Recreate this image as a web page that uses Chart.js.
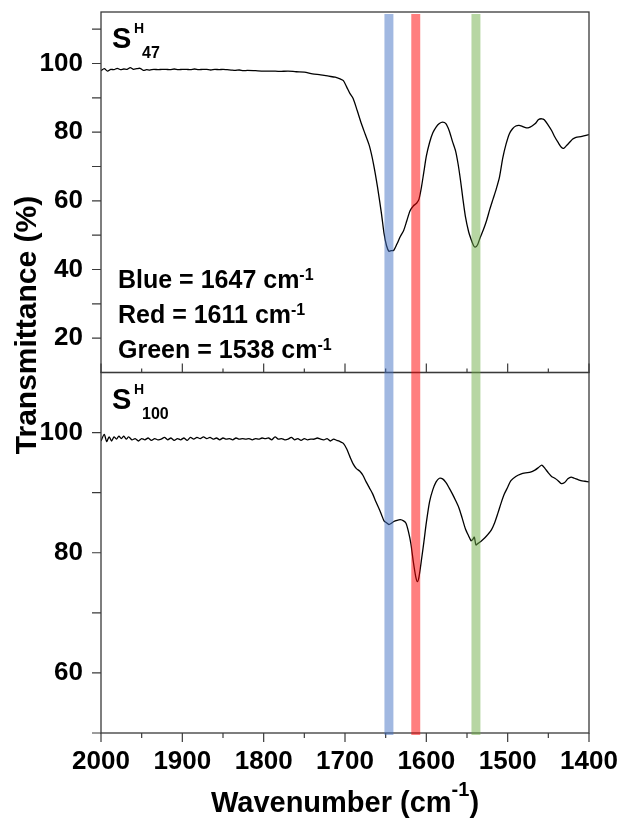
<!DOCTYPE html>
<html>
<head>
<meta charset="utf-8">
<script src="https://cdn.jsdelivr.net/npm/chart.js@4.4.1/dist/chart.umd.min.js"></script>
<style>
  html, body { margin: 0; padding: 0; background: #ffffff; }
  #wrap { position: relative; width: 623px; height: 822px; }
  canvas { display: block; }
</style>
</head>
<body>
<div id="wrap"><canvas id="c" width="623" height="822"></canvas></div>
<script>
// ---------------- DATA ----------------
const xTickValues = [2000, 1900, 1800, 1700, 1600, 1500, 1400];
const xMinorTickValues = [1950, 1850, 1750, 1650, 1550, 1450];
const yTopTickValues = [20, 40, 60, 80, 100];
const yTopMinorTickValues = [30, 50, 70, 90, 110];
const yBottomTickValues = [60, 80, 100];
const yBottomMinorTickValues = [50, 70, 90];

const bandCenters = [1646, 1613, 1539];
const bandNames = ['Blue', 'Red', 'Green'];
const bandLabelValues = [1647, 1611, 1538];

// S^H_47 spectrum
const wnTop = [2000,1996,1992,1988,1984,1980,1976,1972,1968,1964,1960,1956,1952,1948,1944,1940,1935,1930,1925,1920,1915,1910,1905,1900,1895,1890,1885,1880,1875,1870,1865,1860,1855,1850,1845,1840,1835,1830,1825,1820,1810,1800,1790,1780,1770,1760,1750,1740,1730,1720,1712,1706,1702,1698,1694,1690,1685,1680,1675,1670,1665,1660,1655,1652,1649,1646,1643,1640,1636,1632,1628,1624,1620,1616,1612,1609,1606,1603,1600,1596,1592,1588,1584,1580,1576,1572,1568,1564,1561,1558,1555,1552,1548,1545,1542,1540,1537,1534,1530,1526,1522,1518,1514,1510,1506,1502,1498,1494,1490,1486,1482,1478,1474,1470,1466,1462,1458,1455,1450,1446,1442,1438,1434,1431,1428,1424,1420,1416,1410,1405,1400];
const tTop = [97.9,98.5,97.8,98.3,98.2,98.6,98.2,98.4,98.3,98.8,98.3,98.5,98.6,98.0,98.2,98.1,98.3,98.2,98.3,98.3,98.2,98.4,98.2,98.3,98.3,98.2,98.4,98.2,98.3,98.3,98.1,98.3,98.2,98.3,98.2,98.1,98.0,98.1,97.9,98.0,97.9,97.8,97.8,97.7,97.8,97.6,97.5,97.0,96.7,96.3,96.0,95.5,95.0,93.2,91.3,89.8,86.3,82.6,79.3,76.0,70.8,64.0,56.0,50.5,47.0,45.3,45.5,45.6,47.5,49.6,51.3,54.2,57.1,58.5,59.3,60.5,64.0,68.5,73.0,77.0,79.8,81.5,82.5,82.9,82.5,80.5,77.4,74.5,70.8,66.0,60.5,55.5,51.0,48.8,47.0,46.5,47.2,49.2,51.5,54.2,57.5,60.5,63.5,67.0,72.5,76.5,79.5,81.0,81.8,82.0,81.7,81.3,81.3,81.8,82.5,83.7,83.9,83.6,82.0,80.5,78.6,77.0,75.6,75.3,76.0,77.0,78.0,78.5,78.7,79.0,79.3];

// S^H_100 spectrum
const wnBottom = [2000,1996,1993,1990,1987,1984,1981,1978,1975,1972,1969,1966,1962,1958,1954,1950,1946,1942,1938,1934,1930,1926,1922,1918,1914,1910,1906,1902,1898,1894,1890,1886,1882,1878,1874,1870,1866,1862,1858,1854,1850,1846,1842,1838,1834,1830,1826,1822,1818,1814,1810,1806,1802,1798,1794,1790,1786,1782,1778,1774,1770,1766,1762,1758,1754,1750,1746,1742,1738,1734,1730,1726,1722,1718,1714,1710,1706,1702,1698,1694,1690,1686,1682,1678,1674,1670,1666,1662,1658,1655,1652,1649,1646,1643,1640,1636,1632,1628,1625,1622,1619,1616,1613,1611,1609,1606,1603,1600,1596,1592,1588,1584,1580,1576,1572,1568,1564,1560,1556,1552,1548,1545,1543,1541,1539,1536,1532,1528,1524,1520,1516,1512,1508,1504,1500,1496,1490,1484,1478,1472,1466,1462,1458,1454,1450,1446,1442,1438,1434,1430,1426,1422,1418,1414,1410,1405,1400];
const tBottom = [98.6,99.7,98.5,99.3,98.6,99.3,98.9,99.4,99.0,99.4,98.9,99.3,98.8,99.0,98.6,99.0,98.8,99.1,98.7,99.0,98.8,98.9,99.2,98.8,99.1,98.7,99.0,98.8,99.1,98.7,99.2,98.9,99.2,99.0,99.3,99.0,99.2,98.9,99.1,98.8,99.1,98.9,99.0,98.8,99.1,98.9,99.0,98.9,99.0,98.8,99.0,98.9,99.1,99.0,99.1,98.8,99.3,98.9,99.0,98.8,98.9,99.2,98.8,99.0,98.7,99.0,98.8,98.9,98.9,99.1,98.9,98.8,99.0,98.6,98.9,98.7,98.5,98.2,97.3,96.0,94.8,94.0,93.6,92.9,91.8,90.8,89.8,88.5,87.3,86.3,85.3,85.0,84.7,84.9,85.2,85.4,85.5,85.3,84.9,83.5,81.5,78.5,76.0,75.2,76.0,78.8,81.8,85.0,88.5,90.5,91.8,92.4,92.3,91.7,90.8,89.8,88.7,87.5,85.8,84.0,82.8,82.0,82.2,82.6,81.3,81.6,82.0,82.5,83.1,83.8,85.0,86.6,88.3,89.8,90.9,92.0,92.7,93.1,93.3,93.4,93.8,94.2,94.6,94.0,93.3,92.7,92.4,92.0,91.5,91.7,92.3,92.6,92.4,92.2,92.0,91.9,91.8];

// ---------------- STYLE ----------------
const FONT = "'Liberation Sans', Arial, Helvetica, sans-serif";
const bandColors = ['rgba(68,114,196,0.5)', 'rgba(255,0,0,0.5)', 'rgba(112,173,71,0.5)'];
const bandHalfWidth = 5.5;
const frameColor = '#3a3a3a';

Chart.defaults.font.family = FONT;
Chart.defaults.color = '#000';

const toXY = (xs, ys) => xs.map((x, i) => ({ x: x, y: ys[i] }));

const decor = {
  id: 'decor',
  afterDatasetsDraw(chart) {
    const { ctx } = chart;
    const x = chart.scales.x, yT = chart.scales.yTop, yB = chart.scales.yBottom;
    const L = x.left, R = x.right;
    ctx.save();
    ctx.strokeStyle = frameColor;
    ctx.lineWidth = 1.3;
    ctx.strokeRect(L, yT.top, R - L, yT.bottom - yT.top);
    ctx.strokeRect(L, yB.top, R - L, yB.bottom - yB.top);
    ctx.lineWidth = 1.2;
    ctx.beginPath();
    const yt = (sc, vals, len) => vals.forEach(v => {
      const p = sc.getPixelForValue(v);
      ctx.moveTo(L - len, p); ctx.lineTo(L, p);
    });
    yt(yT, yTopTickValues, 9); yt(yT, yTopMinorTickValues, 9);
    yt(yB, yBottomTickValues, 9); yt(yB, yBottomMinorTickValues, 9);
    const xt = (vals, base, len) => vals.forEach(v => {
      const p = x.getPixelForValue(v);
      ctx.moveTo(p, base); ctx.lineTo(p, base + len);
    });
    xt(xTickValues, yT.bottom, -9); xt(xMinorTickValues, yT.bottom, -4);
    xt(xTickValues, yB.bottom, 9); xt(xMinorTickValues, yB.bottom, 5);
    ctx.stroke();
    bandCenters.forEach((c, i) => {
      const x1 = x.getPixelForValue(c + bandHalfWidth);
      const x2 = x.getPixelForValue(c - bandHalfWidth);
      ctx.fillStyle = bandColors[i];
      ctx.fillRect(Math.min(x1, x2), yT.top + 2, Math.abs(x2 - x1), yB.bottom - yT.top);
    });
    ctx.restore();
  },
  afterDraw(chart) {
    const { ctx } = chart;
    const x = chart.scales.x, yT = chart.scales.yTop, yB = chart.scales.yBottom;
    const L = x.left;
    ctx.save();
    ctx.fillStyle = '#000';
    ctx.textBaseline = 'alphabetic';
    ctx.textAlign = 'left';
    const sample = (top, sub) => {
      ctx.font = 'bold 29px ' + FONT;
      ctx.fillText('S', L + 11, top + 36);
      ctx.font = 'bold 14px ' + FONT;
      ctx.fillText('H', L + 33, top + 21);
      ctx.font = 'bold 16px ' + FONT;
      ctx.fillText(sub, L + 41, top + 46);
    };
    sample(yT.top, '47');
    sample(yB.top, '100');
    bandNames.forEach((n, i) => {
      const base = yT.top + 276 + i * 35;
      ctx.font = 'bold 25px ' + FONT;
      const s = n + ' = ' + bandLabelValues[i] + ' cm';
      ctx.fillText(s, L + 17, base);
      const w = ctx.measureText(s).width;
      ctx.font = 'bold 16px ' + FONT;
      ctx.fillText('-1', L + 17 + w, base - 8);
    });
    ctx.font = 'bold 29px ' + FONT;
    const t1 = 'Wavenumber (cm', t3 = ')';
    const w1 = ctx.measureText(t1).width, w3 = ctx.measureText(t3).width;
    ctx.font = 'bold 20px ' + FONT;
    const w2 = ctx.measureText('-1').width;
    const total = w1 + w2 + w3;
    const cx = (x.left + x.right) / 2;
    const sx = cx - total / 2;
    const tb = 812;
    ctx.font = 'bold 29px ' + FONT;
    ctx.fillText(t1, sx, tb);
    ctx.font = 'bold 20px ' + FONT;
    ctx.fillText('-1', sx + w1, tb - 16);
    ctx.font = 'bold 29px ' + FONT;
    ctx.fillText(t3, sx + w1 + w2, tb);
    ctx.translate(36, 325);
    ctx.rotate(-Math.PI / 2);
    ctx.textAlign = 'center';
    ctx.font = 'bold 30px ' + FONT;
    ctx.fillText('Transmittance (%)', 0, 0);
    ctx.restore();
  }
};

const tickFont = { family: FONT, size: 26, weight: 'bold' };
const noPad = s => { s.paddingTop = 0; s.paddingBottom = 0; s.paddingLeft = 0; s.paddingRight = 0; };

new Chart(document.getElementById('c'), {
  type: 'line',
  data: {
    datasets: [
      { label: 'SH100', data: toXY(wnBottom, tBottom), yAxisID: 'yBottom', borderColor: '#000', borderWidth: 1.3, pointRadius: 0, fill: false, tension: 0.25 },
      { label: 'SH47', data: toXY(wnTop, tTop), yAxisID: 'yTop', borderColor: '#000', borderWidth: 1.3, pointRadius: 0, fill: false, tension: 0.25 }
    ]
  },
  options: {
    responsive: false,
    devicePixelRatio: 1,
    animation: false,
    layout: { padding: { left: 0, right: 34, top: 12, bottom: 0 } },
    plugins: { legend: { display: false }, tooltip: { enabled: false } },
    scales: {
      x: {
        type: 'linear', position: 'bottom', min: 1400, max: 2000, reverse: true,
        grid: { display: false, drawTicks: false }, border: { display: false },
        ticks: { font: tickFont, color: '#000', padding: 13, maxRotation: 0, autoSkip: false, callback: v => String(v) },
        afterBuildTicks: s => { s.ticks = xTickValues.map(v => ({ value: v })); },
        afterFit: s => { s.height = 89; noPad(s); }
      },
      yBottom: {
        type: 'linear', position: 'left', stack: 'panels', stackWeight: 1, weight: 1,
        min: 50, max: 110,
        grid: { display: false, drawTicks: false }, border: { display: false },
        ticks: { font: tickFont, color: '#000', padding: 18, callback: v => String(v) },
        afterBuildTicks: s => { s.ticks = yBottomTickValues.map(v => ({ value: v })); },
        afterFit: s => { s.width = 101; noPad(s); }
      },
      yTop: {
        type: 'linear', position: 'left', stack: 'panels', stackWeight: 1, weight: 2,
        min: 10, max: 115,
        grid: { display: false, drawTicks: false }, border: { display: false },
        ticks: { font: tickFont, color: '#000', padding: 18, callback: v => String(v) },
        afterBuildTicks: s => { s.ticks = yTopTickValues.map(v => ({ value: v })); },
        afterFit: s => { s.width = 101; noPad(s); }
      }
    }
  },
  plugins: [decor]
});
</script>
</body>
</html>
